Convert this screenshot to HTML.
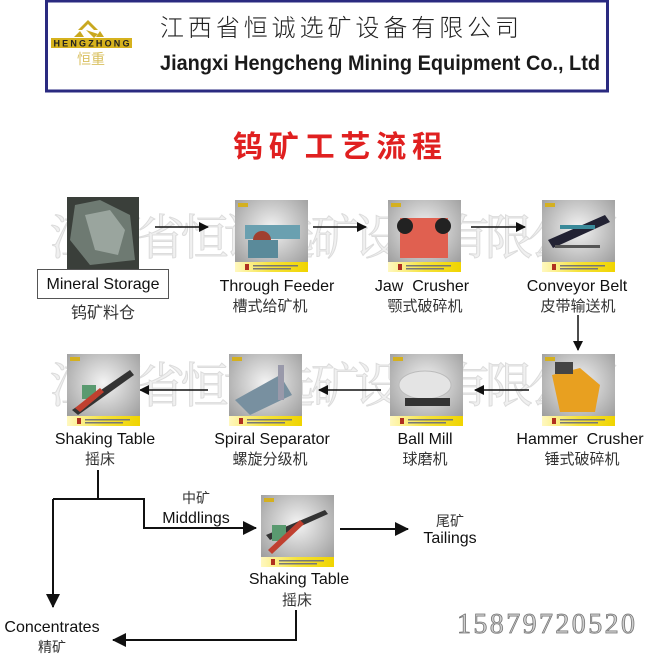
<!DOCTYPE html>
<html><head><meta charset="utf-8"><style>
html,body{margin:0;padding:0;background:#fff;}
body{width:650px;height:656px;overflow:hidden;}
text{font-family:"Liberation Sans","Noto Sans CJK SC",sans-serif;}
text.cn{font-family:"Noto Sans CJK SC","WenQuanYi Zen Hei",sans-serif;}
text.wm{font-family:"Noto Serif CJK SC","Liberation Serif",serif;}
text.ph{font-family:"Liberation Serif",serif;}
</style></head><body>
<svg width="650" height="656" viewBox="0 0 650 656" xmlns="http://www.w3.org/2000/svg">
<defs>
<radialGradient id="g" cx="0.5" cy="0.4" r="0.7"><stop offset="0" stop-color="#f4f4f4"/><stop offset="1" stop-color="#9a9a9a"/></radialGradient>
<linearGradient id="y" x1="0" x2="1"><stop offset="0" stop-color="#fff8c0"/><stop offset="0.5" stop-color="#f5e23a"/><stop offset="1" stop-color="#f0d400"/></linearGradient>
<marker id="a" markerWidth="10" markerHeight="10" refX="9" refY="5" orient="auto" markerUnits="userSpaceOnUse"><path d="M0,0 L10,5 L0,10 Z" fill="#111"/></marker>
<marker id="b" markerWidth="14" markerHeight="14" refX="13" refY="7" orient="auto" markerUnits="userSpaceOnUse"><path d="M0,0 L14,7 L0,14 Z" fill="#111"/></marker>
<g id="card"><rect width="73" height="72" fill="url(#g)"/><rect y="62" width="73" height="10" fill="url(#y)"/><rect x="3" y="3" width="10" height="4" fill="#d4b020"/><rect x="10" y="64" width="4" height="6" fill="#b03020"/><rect x="18" y="65" width="45" height="1.5" fill="#777"/><rect x="18" y="68" width="38" height="1.5" fill="#777"/></g>
</defs>

<!-- header -->
<rect x="46.5" y="1" width="561" height="90" fill="#fff" stroke="#2a2a80" stroke-width="3"/>
<path d="M78,30 L88,20 L98,30 L94,30 L88,24 L82,30Z M86,30 L94,38 L98,34 Z" fill="#c9a820"/>
<path d="M74,37 L80,31 L84,37Z M96,37 L100,31 L104,37Z" fill="#c9a820"/>
<rect x="51" y="38" width="81" height="10" fill="#d6b21e"/>
<text x="91.5" y="46.5" text-anchor="middle" font-size="9" font-weight="bold" fill="#222" textLength="76">HENGZHONG</text>
<text x="91" y="64" text-anchor="middle" font-size="14" fill="#d9c060" class="cn">恒重</text>
<text x="160" y="36" font-size="24" fill="#222" class="cn" textLength="359" font-weight="300">江西省恒诚选矿设备有限公司</text>
<text x="160" y="70" font-size="21" fill="#1a1a1a" font-weight="bold" textLength="440" lengthAdjust="spacingAndGlyphs">Jiangxi Hengcheng Mining Equipment Co., Ltd</text>

<text x="233" y="157" font-size="30" fill="#e02020" font-weight="bold" class="cn" textLength="209">钨矿工艺流程</text>

<!-- watermarks -->
<g font-size="48" fill="#f0f0f0" stroke="#dcdcdc" stroke-width="1">
<text class="wm" x="50" y="254" textLength="570">江西省恒诚选矿设备有限公司</text>
<text class="wm" x="50" y="402" textLength="570">江西省恒诚选矿设备有限公司</text>
</g>

<!-- row 1 -->
<rect x="67" y="197" width="72" height="72" fill="#3a3f3a"/>
<path d="M75,205 L100,200 L130,215 L135,260 L90,265 L70,240Z" fill="#6e7a72"/>
<path d="M85,215 L110,210 L125,230 L118,255 L95,250Z" fill="#9aa59e"/>
<rect x="37.5" y="269.5" width="131" height="29" fill="#fff" stroke="#555"/>
<text x="103" y="289" text-anchor="middle" font-size="16" fill="#111">Mineral Storage</text>
<text x="103" y="318" text-anchor="middle" font-size="16" fill="#333" class="cn">钨矿料仓</text>

<use href="#card" x="235" y="200"/>
<rect x="245" y="225" width="55" height="14" fill="#6aa0b0"/><circle cx="262" cy="240" r="9" fill="#a04030"/><rect x="248" y="240" width="30" height="18" fill="#5a8a9a"/>
<use href="#card" x="388" y="200"/>
<rect x="400" y="218" width="48" height="40" fill="#e06050"/><circle cx="405" cy="226" r="8" fill="#222"/><circle cx="443" cy="226" r="8" fill="#222"/>
<use href="#card" x="542" y="200"/>
<path d="M548,240 L605,215 L610,222 L553,248Z" fill="#223"/><rect x="555" y="245" width="45" height="3" fill="#555"/><rect x="560" y="225" width="35" height="4" fill="#3a8a9a"/>

<g stroke="#111" stroke-width="1.5" fill="none">
<line x1="155" y1="227" x2="208" y2="227" marker-end="url(#a)"/>
<line x1="313" y1="227" x2="366" y2="227" marker-end="url(#a)"/>
<line x1="471" y1="227" x2="525" y2="227" marker-end="url(#a)"/>
<line x1="578" y1="315" x2="578" y2="350" marker-end="url(#a)"/>
<line x1="529" y1="390" x2="475" y2="390" marker-end="url(#a)"/>
<line x1="381" y1="390" x2="319" y2="390" marker-end="url(#a)"/>
<line x1="208" y1="390" x2="140" y2="390" marker-end="url(#a)"/>
</g>

<g font-size="16" fill="#111" text-anchor="middle">
<text x="277" y="291">Through Feeder</text>
<text x="422" y="291" xml:space="preserve">Jaw  Crusher</text>
<text x="577" y="291">Conveyor Belt</text>
<text x="105" y="444">Shaking Table</text>
<text x="272" y="444">Spiral Separator</text>
<text x="425" y="444">Ball Mill</text>
<text x="580" y="444" xml:space="preserve">Hammer  Crusher</text>
</g>
<g font-size="15" fill="#333" text-anchor="middle">
<text class="cn" x="270" y="311">槽式给矿机</text>
<text class="cn" x="425" y="311">颚式破碎机</text>
<text class="cn" x="578" y="311">皮带输送机</text>
<text class="cn" x="100" y="464">摇床</text>
<text class="cn" x="270" y="464">螺旋分级机</text>
<text class="cn" x="425" y="464">球磨机</text>
<text class="cn" x="582" y="464">锤式破碎机</text>
</g>

<!-- row 2 -->
<use href="#card" x="67" y="354"/>
<path d="M72,410 L130,370 L134,375 L78,415Z" fill="#333"/><rect x="82" y="385" width="14" height="14" fill="#5a9a70"/><path d="M75,408 L100,388 L104,392 L80,412Z" fill="#c04030"/>
<use href="#card" x="229" y="354"/>
<path d="M235,400 L280,375 L292,395 L250,415Z" fill="#7890a0"/><rect x="278" y="365" width="6" height="35" fill="#99a"/>
<use href="#card" x="390" y="354"/>
<ellipse cx="425" cy="385" rx="26" ry="14" fill="#e4e4e4" stroke="#bbb"/><rect x="405" y="398" width="45" height="8" fill="#333"/>
<use href="#card" x="542" y="354"/>
<path d="M552,375 L580,368 L600,385 L595,412 L560,412Z" fill="#e8a020"/><rect x="555" y="362" width="18" height="12" fill="#444"/>

<!-- bottom -->
<use href="#card" x="261" y="495"/>
<path d="M266,535 L325,510 L328,514 L270,540Z" fill="#333"/><rect x="272" y="525" width="14" height="16" fill="#5a9a70"/><path d="M268,550 L300,520 L304,524 L272,554Z" fill="#c04030"/>
<g stroke="#111" stroke-width="2" fill="none">
<polyline points="98,470 98,499"/>
<polyline points="53,499 144,499 144,528 256,528" marker-end="url(#b)"/>
<line x1="53" y1="499" x2="53" y2="607" marker-end="url(#b)"/>
<line x1="340" y1="529" x2="408" y2="529" marker-end="url(#b)"/>
<polyline points="296,610 296,640 113,640" marker-end="url(#b)"/>
</g>
<text x="196" y="503" text-anchor="middle" font-size="14" fill="#333" class="cn">中矿</text>
<text x="196" y="523" text-anchor="middle" font-size="16" fill="#111">Middlings</text>
<text x="450" y="526" text-anchor="middle" font-size="14" fill="#333" class="cn">尾矿</text>
<text x="450" y="543" text-anchor="middle" font-size="16" fill="#111">Tailings</text>
<text x="299" y="584" text-anchor="middle" font-size="16" fill="#111">Shaking Table</text>
<text x="297" y="605" text-anchor="middle" font-size="15" fill="#333" class="cn">摇床</text>
<text x="52" y="632" text-anchor="middle" font-size="16" fill="#111">Concentrates</text>
<text x="52" y="652" text-anchor="middle" font-size="14" fill="#333" class="cn">精矿</text>
<text class="ph" x="457" y="633" font-size="28" fill="#cfcfcf" stroke="#777" stroke-width="0.8" textLength="178">15879720520</text>
</svg>
</body></html>
